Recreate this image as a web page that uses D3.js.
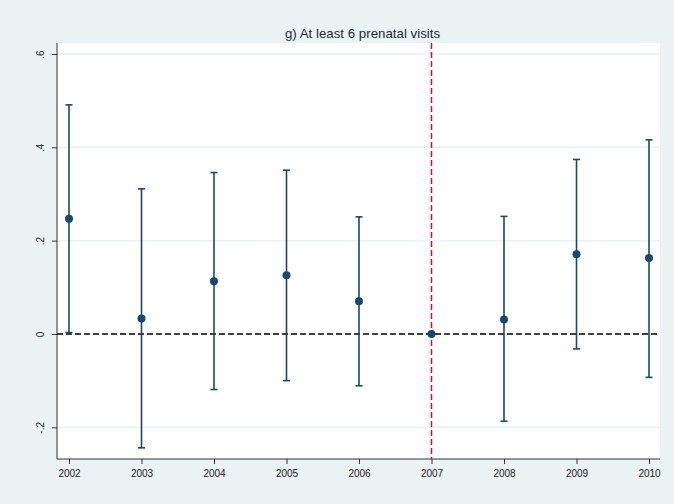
<!DOCTYPE html>
<html>
<head>
<meta charset="utf-8">
<script src="https://cdn.jsdelivr.net/npm/d3@7"></script>
<style>
  html, body { margin: 0; padding: 0; background: #eaf2f3; }
  svg { display: block; }
  text { font-family: "Liberation Sans", Arial, Helvetica, sans-serif; }
</style>
</head>
<body>
<svg id="chart" width="674" height="504"></svg>
<script>
// Event-study coefficients with 95% confidence intervals
const years = [2002, 2003, 2004, 2005, 2006, 2007, 2008, 2009, 2010];
const estimates = [0.247, 0.033, 0.113, 0.126, 0.070, 0.000, 0.031, 0.171, 0.163];
const lowerCI = [0.003, -0.244, -0.119, -0.100, -0.111, 0.000, -0.187, -0.032, -0.093];
const upperCI = [0.491, 0.311, 0.346, 0.351, 0.251, 0.000, 0.252, 0.374, 0.416];
const yTicks = [-0.2, 0, 0.2, 0.4, 0.6];
const yTickLabels = ["-.2", "0", ".2", ".4", ".6"];
const referenceYear = 2007;
const title = "g) At least 6 prenatal visits";

const svg = d3.select("#chart");
const W = 674, H = 504;

// Outer (graph) background
svg.append("rect").attr("width", W).attr("height", H).attr("fill", "#eaf2f3");

// Plot region
const plot = { left: 57, right: 660, top: 43, bottom: 459 };
svg.append("rect")
  .attr("x", plot.left).attr("y", plot.top)
  .attr("width", plot.right - plot.left).attr("height", plot.bottom - plot.top)
  .attr("fill", "#ffffff");

const x = d3.scaleLinear().domain([2002, 2010]).range([69, 649]);
const y = d3.scaleLinear().domain([-0.2, 0.6]).range([427.3, 54]);

// Horizontal gridlines
svg.append("g").selectAll("line")
  .data(yTicks.filter(v => v !== 0))
  .join("line")
  .attr("x1", plot.left).attr("x2", plot.right)
  .attr("y1", d => y(d)).attr("y2", d => y(d))
  .attr("stroke", "#eaf2f3").attr("stroke-width", 1.5);

// Y axis with vertical labels centred on each tick
const yAxis = d3.axisLeft(y)
  .tickValues(yTicks)
  .tickFormat((d, i) => yTickLabels[i])
  .tickSize(5).tickPadding(5);
const gy = svg.append("g").attr("transform", `translate(${plot.left},0)`).call(yAxis);
gy.select(".domain").attr("d", `M0,${plot.top}V${plot.bottom}`).attr("stroke", "#333").attr("stroke-width", 1);
gy.selectAll(".tick line").attr("stroke", "#333");
gy.selectAll(".tick text")
  .attr("font-size", 10).attr("fill", "#222")
  .attr("text-anchor", "middle")
  .attr("x", 0).attr("y", 0)
  .attr("dy", "0.32em")
  .attr("transform", "translate(-16,0) rotate(-90)");

// X axis
const xAxis = d3.axisBottom(x)
  .tickValues(years)
  .tickFormat(d3.format("d"))
  .tickSize(5).tickPadding(6);
const gx = svg.append("g").attr("transform", `translate(0,${plot.bottom})`).call(xAxis);
gx.select(".domain").attr("d", `M${plot.left},0H${plot.right}`).attr("stroke", "#333").attr("stroke-width", 1);
gx.selectAll(".tick line").attr("stroke", "#333");
gx.selectAll(".tick text").attr("font-size", 10).attr("fill", "#222");

// Zero reference line
svg.append("line")
  .attr("x1", plot.left).attr("x2", plot.right)
  .attr("y1", y(0)).attr("y2", y(0))
  .attr("stroke", "#000").attr("stroke-width", 1.6)
  .attr("stroke-dasharray", "6,3");

// Vertical reference line at the omitted year
svg.append("line")
  .attr("x1", x(referenceYear)).attr("x2", x(referenceYear))
  .attr("y1", plot.top).attr("y2", plot.bottom)
  .attr("stroke", "#cc1139").attr("stroke-width", 1.5)
  .attr("stroke-dasharray", "6,3");

// Confidence intervals
const data = years.map((yr, i) => ({ yr, est: estimates[i], lo: lowerCI[i], hi: upperCI[i] }));
const navy = "#1a476f";
const cap = 3.5;
const bars = svg.append("g").selectAll("g").data(data.filter(d => d.hi !== d.lo)).join("g");
bars.append("line")
  .attr("x1", d => x(d.yr)).attr("x2", d => x(d.yr))
  .attr("y1", d => y(d.lo)).attr("y2", d => y(d.hi))
  .attr("stroke", navy).attr("stroke-width", 1.6);
bars.append("line")
  .attr("x1", d => x(d.yr) - cap).attr("x2", d => x(d.yr) + cap)
  .attr("y1", d => y(d.hi)).attr("y2", d => y(d.hi))
  .attr("stroke", navy).attr("stroke-width", 1.6);
bars.append("line")
  .attr("x1", d => x(d.yr) - cap).attr("x2", d => x(d.yr) + cap)
  .attr("y1", d => y(d.lo)).attr("y2", d => y(d.lo))
  .attr("stroke", navy).attr("stroke-width", 1.6);

// Point estimates
svg.append("g").selectAll("circle").data(data).join("circle")
  .attr("cx", d => x(d.yr)).attr("cy", d => y(d.est))
  .attr("r", 4).attr("fill", navy);

// Title
svg.append("text")
  .attr("x", (plot.left + plot.right) / 2 + 4).attr("y", 38)
  .attr("text-anchor", "middle")
  .attr("font-size", 13.3).attr("fill", "#1e2a3a")
  .text(title);
</script>
</body>
</html>
